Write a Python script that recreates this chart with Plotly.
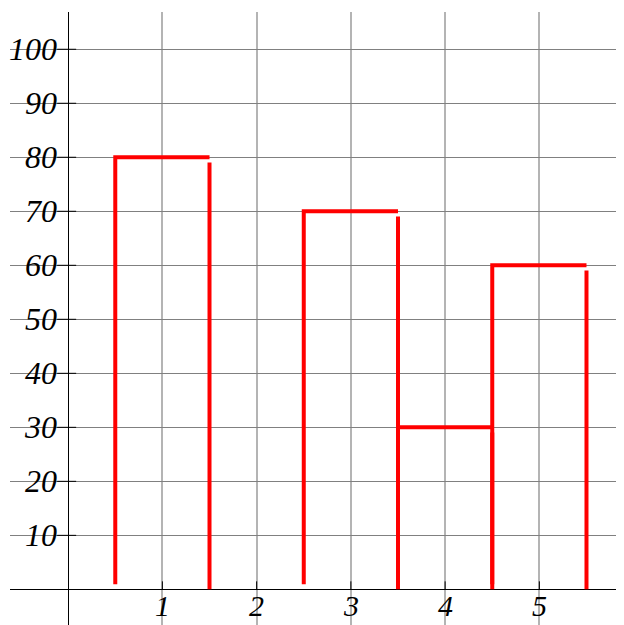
import plotly.graph_objects as go

categories = [1, 2, 3, 4, 5]
values = [80, 0, 70, 30, 60]
x_tick_labels = ["1", "2", "3", "4", "5"]
y_tick_values = [10, 20, 30, 40, 50, 60, 70, 80, 90, 100]
y_tick_labels = ["10", "20", "30", "40", "50", "60", "70", "80", "90", "100"]

HALF = 0.5
GAP = 0.95

fig = go.Figure()

xs, ys = [], []
for c, v in zip(categories, values):
    if v <= 0:
        continue
    # left edge + top
    xs += [c - HALF, c - HALF, c + HALF, None]
    ys += [GAP, v, v, None]
    # right edge
    xs += [c + HALF, c + HALF, None]
    ys += [v - GAP, 0, None]

fig.add_trace(go.Scatter(x=xs, y=ys, mode="lines",
                         line=dict(color="#ff0000", width=4),
                         hoverinfo="skip", showlegend=False))

font = dict(family="Liberation Serif", size=32, color="black", style="italic")
xfont = dict(family="Liberation Serif", size=30, color="black", style="italic")

annotations = []
for v, t in zip(y_tick_values, y_tick_labels):
    annotations.append(dict(x=0, y=v, xref="x", yref="y", text="<i>" + t + "</i>",
                            showarrow=False, xanchor="right", yanchor="middle",
                            xshift=-9, font=font))
for c, t in zip(categories, x_tick_labels):
    annotations.append(dict(x=c, y=0, xref="x", yref="y", text="<i>" + t + "</i>",
                            showarrow=False, xanchor="center", yanchor="top",
                            yshift=1, borderpad=0, font=xfont))

shapes = []
for v in y_tick_values:
    shapes.append(dict(type="line", xref="x", yref="y", xsizemode="pixel", xanchor=0,
                       x0=-11, x1=8, y0=v, y1=v, line=dict(color="black", width=1),
                       layer="above"))
for c in categories:
    shapes.append(dict(type="line", xref="x", yref="y", ysizemode="pixel", yanchor=0,
                       y0=0, y1=8, x0=c, x1=c, line=dict(color="black", width=1),
                       layer="above"))

fig.update_layout(
    width=616, height=617,
    margin=dict(l=2, r=0, t=4, b=0),
    paper_bgcolor="white", plot_bgcolor="white",
    xaxis=dict(range=[-0.617, 5.898], tickvals=categories, showticklabels=False,
               showgrid=True, gridcolor="#b4b4b4", gridwidth=1.5,
               zeroline=True, zerolinecolor="black", zerolinewidth=1,
               showline=False, ticks="", fixedrange=True),
    yaxis=dict(range=[-6.6, 106.9], tickvals=y_tick_values, showticklabels=False,
               showgrid=True, gridcolor="#808080", gridwidth=1,
               zeroline=True, zerolinecolor="black", zerolinewidth=1,
               showline=False, ticks="", fixedrange=True),
    annotations=annotations,
    shapes=shapes,
    showlegend=False,
)

fig.write_html("out.html")
